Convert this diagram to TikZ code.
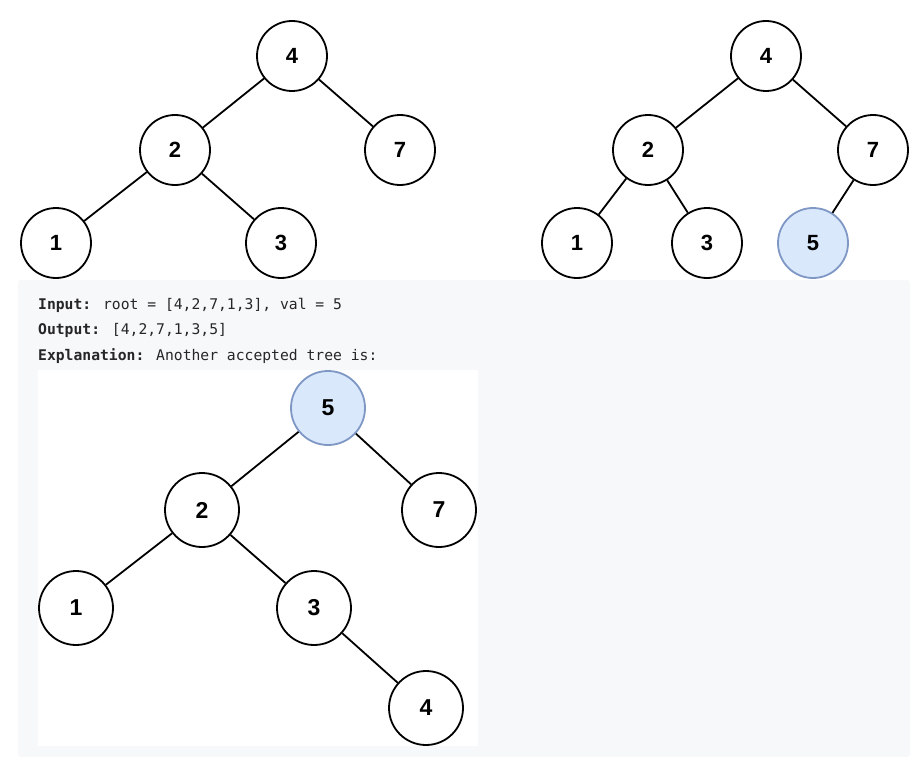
\documentclass[tikz,border=0pt]{standalone}
\usepackage{fontspec}
\setmainfont{Liberation Sans}
\newfontfamily\codefont{DejaVu Sans Mono}
\definecolor{panelgray}{HTML}{F7F8FA}
\definecolor{hlfill}{HTML}{DAE8FC}
\definecolor{hldraw}{HTML}{7E97C4}
\definecolor{codetext}{HTML}{262626}
\begin{document}
\begin{tikzpicture}[x=1pt,y=-1pt,
  tnode/.style={circle,draw=black,line width=1.8pt,fill=white,minimum size=70pt,inner sep=0pt,font=\fontsize{22}{22}\selectfont\bfseries},
  bnode/.style={tnode,minimum size=74pt,font=\fontsize{23}{23}\selectfont\bfseries},
  hl/.style={fill=hlfill,draw=hldraw},
  edge/.style={line width=1.8pt,black},
  codeline/.style={anchor=west,inner sep=0pt,text=codetext,font=\codefont\fontsize{14.7}{14.7}\selectfont}]
\useasboundingbox (0,0) rectangle (918,765);
\fill[white] (0,0) rectangle (918,765);
% panel
\fill[panelgray,rounded corners=3pt] (18,280) rectangle (910,757);
\fill[white] (38,370) rectangle (478,746);
% top-left tree
\node[tnode] (a4) at (292,56) {4};
\node[tnode] (a2) at (175,150) {2};
\node[tnode] (a7) at (400,150) {7};
\node[tnode] (a1) at (56,243) {1};
\node[tnode] (a3) at (281,243) {3};
\draw[edge] (a4) -- (a2);
\draw[edge] (a4) -- (a7);
\draw[edge] (a2) -- (a1);
\draw[edge] (a2) -- (a3);
% top-right tree
\node[tnode] (b4) at (766,56) {4};
\node[tnode] (b2) at (648,150) {2};
\node[tnode] (b7) at (873,150) {7};
\node[tnode] (b1) at (577,243) {1};
\node[tnode] (b3) at (707,243) {3};
\node[tnode,hl] (b5) at (813,243) {5};
\draw[edge] (b4) -- (b2);
\draw[edge] (b4) -- (b7);
\draw[edge] (b2) -- (b1);
\draw[edge] (b2) -- (b3);
\draw[edge] (b7) -- (b5);
% text
\node[codeline] (t1) at (38,305) {\textbf{Input:} root = [4,2,7,1,3], val = 5};
\node[codeline] (t2) at (38,330) {\textbf{Output:} [4,2,7,1,3,5]};
\node[codeline] (t3) at (38,356) {\textbf{Explanation:} Another accepted tree is:};
% bottom tree
\node[bnode,hl] (c5) at (328,408) {5};
\node[bnode] (c2) at (202,510) {2};
\node[bnode] (c7) at (439,510) {7};
\node[bnode] (c1) at (76,608) {1};
\node[bnode] (c3) at (314,608) {3};
\node[bnode] (c4) at (426,708) {4};
\draw[edge] (c5) -- (c2);
\draw[edge] (c5) -- (c7);
\draw[edge] (c2) -- (c1);
\draw[edge] (c2) -- (c3);
\draw[edge] (c3) -- (c4);
\end{tikzpicture}
\end{document}
